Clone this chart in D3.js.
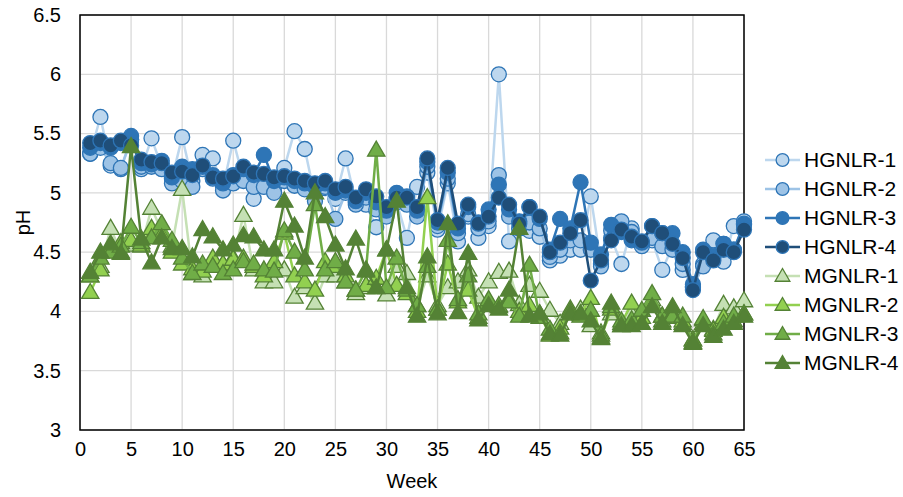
<!DOCTYPE html>
<html>
<head>
<meta charset="utf-8">
<script src="https://cdn.jsdelivr.net/npm/d3@7"></script>
<style>
  body { margin: 0; background: #fff; }
  svg { display: block; font-family: "Liberation Sans", Arial, sans-serif; }
</style>
</head>
<body>
<svg id="chart" width="903" height="497"></svg>
<script>
const weeks = d3.range(1, 66);
const seriesNames = ["HGNLR-1","HGNLR-2","HGNLR-3","HGNLR-4","MGNLR-1","MGNLR-2","MGNLR-3","MGNLR-4"];
const xTicks = [0,5,10,15,20,25,30,35,40,45,50,55,60,65];
const yTicks = [3,3.5,4,4.5,5,5.5,6,6.5];

const HGNLR1 = [5.33,5.64,5.23,5.20,5.45,5.20,5.46,5.22,5.12,5.47,5.10,5.32,5.29,5.05,5.44,5.12,4.95,5.08,5.05,5.21,5.52,5.37,4.97,5.04,4.95,5.29,4.92,4.90,4.71,4.83,4.92,4.62,5.05,5.17,4.69,5.08,4.59,4.80,4.62,4.72,6.00,4.59,4.70,4.68,4.63,4.43,4.47,4.52,4.52,4.97,4.40,4.62,4.40,4.70,4.58,4.60,4.35,4.55,4.35,4.20,4.40,4.60,4.42,4.72,4.76];
const HGNLR2 = [5.33,5.38,5.25,5.21,5.45,5.22,5.22,5.20,5.08,5.10,5.05,5.20,5.12,5.02,5.08,5.10,5.05,5.05,5.00,5.10,5.06,5.03,4.93,5.05,4.78,5.00,4.90,4.96,4.86,4.80,4.95,4.90,4.80,5.22,4.72,5.12,4.66,4.82,4.70,4.76,5.15,4.80,4.70,4.75,4.70,4.46,4.52,4.60,4.60,4.52,4.38,4.68,4.76,4.67,4.55,4.62,4.55,4.52,4.40,4.21,4.38,4.45,4.57,4.52,4.73];
const HGNLR3 = [5.38,5.42,5.38,5.42,5.48,5.25,5.24,5.27,5.13,5.22,5.20,5.22,5.15,5.08,5.15,5.20,5.15,5.32,5.10,5.13,5.10,5.08,5.05,5.08,5.00,5.02,4.93,5.00,4.92,4.85,5.00,4.97,4.85,5.26,4.75,5.17,4.70,4.88,4.75,4.86,5.07,4.86,4.76,4.88,4.78,4.52,4.78,4.70,5.09,4.58,4.48,4.73,4.67,4.60,4.58,4.72,4.66,4.66,4.50,4.23,4.52,4.47,4.57,4.52,4.74];
const HGNLR4 = [5.42,5.44,5.40,5.44,5.40,5.28,5.26,5.25,5.17,5.18,5.15,5.23,5.13,5.12,5.14,5.22,5.17,5.16,5.13,5.14,5.12,5.10,5.08,5.10,5.03,5.05,4.96,5.03,4.97,4.88,4.96,4.96,4.88,5.29,4.77,5.21,4.74,4.90,4.74,4.80,4.96,4.90,4.74,4.88,4.80,4.50,4.58,4.66,4.77,4.26,4.43,4.60,4.69,4.63,4.59,4.72,4.66,4.57,4.45,4.18,4.50,4.43,4.52,4.50,4.69];
const MGNLR1 = [4.30,4.38,4.70,4.50,4.56,4.55,4.87,4.68,4.55,5.03,4.32,4.30,4.40,4.40,4.45,4.81,4.35,4.25,4.25,4.35,4.12,4.20,4.07,4.30,4.30,4.25,4.15,4.20,4.20,4.14,4.38,4.32,4.05,4.30,4.05,4.20,4.25,4.35,4.12,4.25,4.33,4.34,4.06,4.22,4.17,4.01,3.90,3.98,4.02,3.88,3.82,3.98,3.88,3.98,3.90,4.10,3.92,3.98,3.90,3.76,3.93,3.85,4.06,4.03,4.09];
const MGNLR2 = [4.16,4.35,4.55,4.58,4.60,4.56,4.70,4.65,4.50,4.40,4.36,4.34,4.45,4.40,4.44,4.45,4.38,4.30,4.42,4.66,4.30,4.25,4.18,4.42,4.38,4.30,4.18,4.22,4.28,4.52,4.22,4.15,4.00,4.96,4.02,4.40,4.08,4.18,3.95,4.08,4.04,4.10,4.00,4.05,3.98,3.80,3.86,4.02,3.98,4.11,3.78,4.02,3.90,4.07,3.95,4.07,3.96,3.95,3.92,3.76,3.90,3.84,3.95,3.92,3.98];
const MGNLR3 = [4.30,4.45,4.50,4.55,4.71,4.58,4.62,4.74,4.60,4.45,4.32,4.40,4.38,4.32,4.35,4.42,4.40,4.35,4.34,4.68,4.50,4.35,4.90,4.35,4.42,4.25,4.18,4.35,5.36,4.20,4.45,4.18,4.05,4.38,4.02,4.60,4.10,4.30,3.98,4.10,4.05,4.08,3.96,4.39,3.95,3.85,3.82,4.00,3.96,4.01,3.80,4.04,3.92,3.93,4.01,4.15,3.96,3.96,3.96,3.74,3.94,3.81,3.90,3.96,3.98];
const MGNLR4 = [4.33,4.50,4.57,4.49,5.39,4.61,4.41,4.62,4.53,4.53,4.46,4.69,4.63,4.52,4.56,4.64,4.63,4.52,4.52,4.93,4.72,4.45,5.00,4.80,4.56,4.36,4.61,4.34,4.20,4.52,4.93,4.20,3.96,4.46,3.98,4.74,3.99,4.49,3.93,4.05,4.02,4.18,4.70,3.96,3.98,3.81,3.80,3.98,3.98,3.92,3.77,4.07,3.88,3.88,3.90,4.04,3.90,4.04,3.88,3.73,3.88,3.79,3.85,3.90,3.96];

const seriesValues = [HGNLR1,HGNLR2,HGNLR3,HGNLR4,MGNLR1,MGNLR2,MGNLR3,MGNLR4];
const styles = [
  {shape:"circle", fill:"#BDD7EE", stroke:"#2E75B6", line:"#BDD7EE"},
  {shape:"circle", fill:"#9DC3E6", stroke:"#2E75B6", line:"#9DC3E6"},
  {shape:"circle", fill:"#2E75B6", stroke:"#2E75B6", line:"#2E75B6"},
  {shape:"circle", fill:"#1F4E79", stroke:"#2E75B6", line:"#1F4E79"},
  {shape:"triangle", fill:"#C5E0B4", stroke:"#548235", line:"#C5E0B4"},
  {shape:"triangle", fill:"#92D050", stroke:"#548235", line:"#92D050"},
  {shape:"triangle", fill:"#70AD47", stroke:"#548235", line:"#70AD47"},
  {shape:"triangle", fill:"#548235", stroke:"#548235", line:"#548235"}
];

const svg = d3.select("#chart");
const L = 80, R = 744, T = 15, B = 430;
const x = d3.scaleLinear().domain([0,65]).range([L,R]);
const y = d3.scaleLinear().domain([3,6.5]).range([B,T]);

// gridlines
svg.append("g").selectAll("line").data(yTicks).join("line")
  .attr("x1",L).attr("x2",R).attr("y1",d=>y(d)).attr("y2",d=>y(d))
  .attr("stroke","#D9D9D9").attr("stroke-width",1.3);
svg.append("g").selectAll("line").data(xTicks).join("line")
  .attr("y1",T).attr("y2",B).attr("x1",d=>x(d)).attr("x2",d=>x(d))
  .attr("stroke","#D9D9D9").attr("stroke-width",1.3);

// axes (labels only)
const xAxis = svg.append("g").attr("transform",`translate(0,${B})`)
  .call(d3.axisBottom(x).tickValues(xTicks).tickSize(0).tickPadding(12).tickFormat(d3.format("d")));
const yAxis = svg.append("g").attr("transform",`translate(${L},0)`)
  .call(d3.axisLeft(y).tickValues(yTicks).tickSize(0).tickPadding(19).tickFormat(d=>String(d)));
[xAxis,yAxis].forEach(a=>{
  a.select(".domain").remove();
  a.selectAll("text").attr("font-size",20).attr("fill","#000").attr("font-family","'Liberation Sans', Arial, sans-serif");
});

// plot border
svg.append("rect").attr("x",L).attr("y",T).attr("width",R-L).attr("height",B-T)
  .attr("fill","none").attr("stroke","#000").attr("stroke-width",1.5);

function drawMarker(g, st, cx, cy, scale) {
  if (st.shape === "circle") {
    g.append("circle").attr("cx",cx).attr("cy",cy).attr("r",7.5*scale)
      .attr("fill",st.fill).attr("stroke",st.stroke).attr("stroke-width",1.3);
  } else {
    g.append("path").attr("d", d3.symbol().type(d3.symbolTriangle).size(130*scale*scale)())
      .attr("transform",`translate(${cx},${cy+1})`)
      .attr("fill",st.fill).attr("stroke",st.stroke).attr("stroke-width",1.3);
  }
}

const line = d3.line().x((d,i)=>x(weeks[i])).y(d=>y(d));
seriesValues.forEach((vals,si)=>{
  const st = styles[si];
  const g = svg.append("g");
  g.append("path").datum(vals).attr("d",line).attr("fill","none")
    .attr("stroke",st.line).attr("stroke-width",2.5).attr("stroke-linejoin","round");
  vals.forEach((v,i)=>drawMarker(g, st, x(weeks[i]), y(v), 1));
});

// axis titles
svg.append("text").attr("x",(L+R)/2).attr("y",488).attr("text-anchor","middle")
  .attr("font-size",20).text("Week");
svg.append("text").attr("transform",`translate(30,${(T+B)/2}) rotate(-90)`)
  .attr("text-anchor","middle").attr("font-size",20).text("pH");

// legend
const lg = svg.append("g");
seriesNames.forEach((name,i)=>{
  const ly = 160 + i*29;
  const st = styles[i];
  lg.append("line").attr("x1",765).attr("x2",800).attr("y1",ly).attr("y2",ly)
    .attr("stroke",st.line).attr("stroke-width",2.5);
  drawMarker(lg, st, 782.5, ly, 0.85);
  lg.append("text").attr("x",804).attr("y",ly).attr("dy","0.35em")
    .attr("font-size",21).attr("fill","#000").text(name);
});
</script>
</body>
</html>
